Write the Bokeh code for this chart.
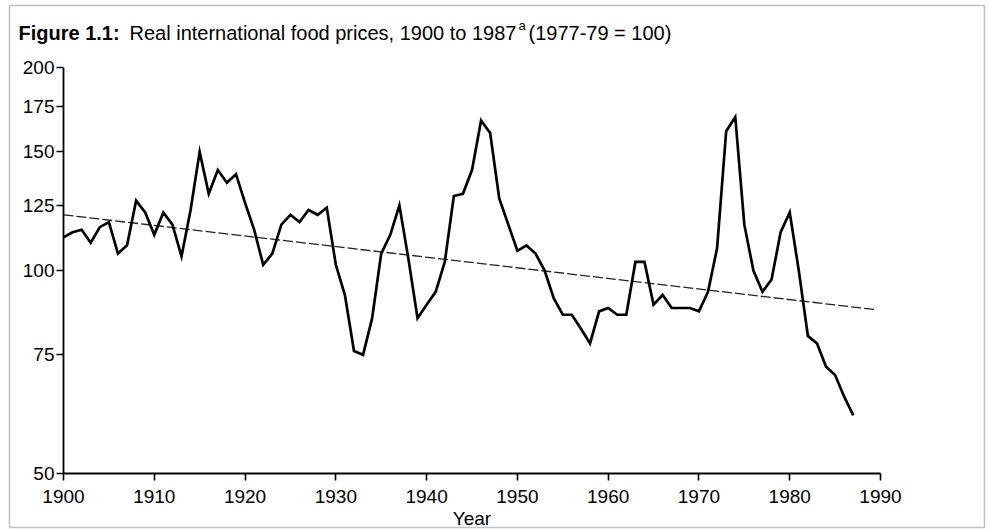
import math
from bokeh.plotting import figure
from bokeh.models import FixedTicker, NumeralTickFormatter, Label, BoxAnnotation
from bokeh.embed import file_html
from bokeh.resources import INLINE

# ---- data ----
years = list(range(1900, 1988))
prices = [
    112, 114, 115, 110, 116, 118, 106, 109, 127, 122,   # 1900-1909
    113, 122, 117, 105, 123, 150, 130, 141, 135, 139,   # 1910-1919
    126, 115, 102, 106, 117, 121, 118, 123, 121, 124,   # 1920-1929
    102, 92, 76, 75, 85, 106, 113, 125, 104, 85,        # 1930-1939
    89, 93, 103, 129, 130, 141, 167, 160, 128, 117,     # 1940-1949
    107, 109, 106, 100, 91, 86, 86, 82, 78, 87,         # 1950-1959
    88, 86, 86, 103, 103, 89, 92, 88, 88, 88,           # 1960-1969
    87, 93, 108, 161, 169, 117, 100, 93, 97, 114,       # 1970-1979
    122, 100, 80, 78, 72, 70, 65, 61,                   # 1980-1987
]
trend_years = [1900, 1989.5]
trend_values = [121, 87.5]

x_ticks = [1900, 1910, 1920, 1930, 1940, 1950, 1960, 1970, 1980, 1990]
y_ticks = [50, 75, 100, 125, 150, 175, 200]
x_bounds = (1900, 1990)
y_bounds = (50, 200)

title_bold = "Figure 1.1:"
title_main = "Real international food prices, 1900 to 1987"
title_sup = "a"
title_tail = "(1977-79 = 100)"
x_label = "Year"

# ---- layout (pixels) ----
W, H = 989, 529
AX_LEFT, AX_RIGHT = 63, 880      # pixel of 1900 / 1990
AX_TOP, AX_BOTTOM = 67.2, 473    # pixel of 200 / 50
FONT = "Liberation Sans"

x_per = (AX_RIGHT - AX_LEFT) / (x_bounds[1] - x_bounds[0])
x_range = (x_bounds[0] - AX_LEFT / x_per, x_bounds[1] + (W - AX_RIGHT) / x_per)
ln_per = (AX_BOTTOM - AX_TOP) / math.log(y_bounds[1] / y_bounds[0])
y_range = (y_bounds[0] * math.exp(-(H - AX_BOTTOM) / ln_per),
           y_bounds[1] * math.exp(AX_TOP / ln_per))

p = figure(
    width=W, height=H,
    x_range=x_range, y_range=y_range,
    y_axis_type="log",
    output_backend="svg", toolbar_location=None,
    min_border=0,
    background_fill_color="white", border_fill_color="white",
)
p.outline_line_color = None
p.grid.visible = False

# axes (drawn inside the frame at fixed positions)
p.xaxis.fixed_location = y_bounds[0]
p.yaxis.fixed_location = x_bounds[0]
p.xaxis.bounds = x_bounds
p.yaxis.bounds = y_bounds
p.xaxis.ticker = FixedTicker(ticks=x_ticks)
p.yaxis.ticker = FixedTicker(ticks=y_ticks)
p.xaxis.formatter = NumeralTickFormatter(format="0")
p.yaxis.formatter = NumeralTickFormatter(format="0")
for ax in (p.xaxis, p.yaxis):
    ax.axis_line_color = "black"
    ax.axis_line_width = 1.8
    ax.major_tick_line_color = "black"
    ax.major_tick_line_width = 1.6
    ax.major_tick_in = 0
    ax.minor_tick_line_color = None
    ax.major_label_text_font = FONT
    ax.major_label_text_font_size = "19px"
    ax.major_label_text_color = "black"
p.xaxis.major_tick_out = 7
p.yaxis.major_tick_out = 7
p.xaxis.major_label_standoff = 9
p.yaxis.major_label_standoff = 2
p.xaxis.axis_label = x_label
p.xaxis.axis_label_text_font = FONT
p.xaxis.axis_label_text_font_size = "19px"
p.xaxis.axis_label_text_font_style = "normal"
p.xaxis.axis_label_text_color = "black"
p.xaxis.axis_label_standoff = 2

# trend line and price series
p.line(trend_years, trend_values, line_color="#222222", line_width=1.3, line_dash="10 3")
p.line(years, prices, line_color="black", line_width=2.7, line_join="miter")

# scan frame around the figure
p.add_layout(BoxAnnotation(left=9, right=984, bottom=2, top=H - 5,
                           left_units="screen", right_units="screen",
                           bottom_units="screen", top_units="screen",
                           fill_alpha=0, line_color="#333333", line_width=1.5))

# title (mixed styles)
def add_label(text, x, size, style="normal", base=32):
    p.add_layout(Label(x=x, y=H - base, x_units="screen", y_units="screen", text=text,
                       text_font=FONT, text_font_size=size, text_font_style=style,
                       text_color="black", text_baseline="alphabetic"))

add_label(title_bold, 18, "20px", "bold")
add_label(title_main, 129, "20px")
add_label(title_sup, 518, "13px", base=25)
add_label(title_tail, 528, "20px")

open("out.html", "w").write(file_html(p, INLINE))
